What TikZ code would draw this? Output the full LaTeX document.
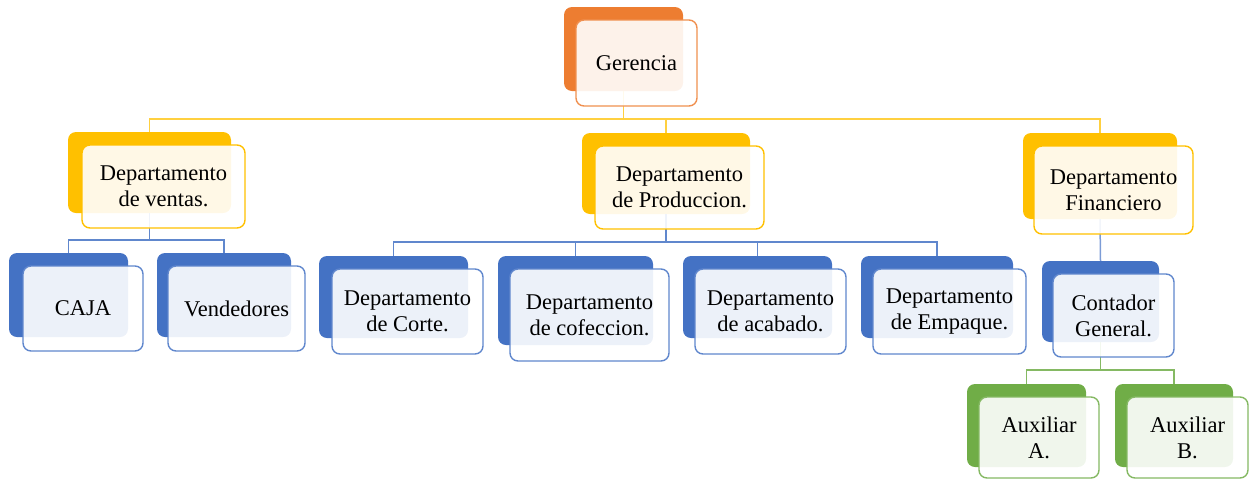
\documentclass[tikz,border=0pt]{standalone}
\usepackage{fontspec}
\setmainfont{Liberation Serif}
\definecolor{corange}{HTML}{ED7D31}
\definecolor{cgold}{HTML}{FFC000}
\definecolor{cblue}{HTML}{4472C4}
\definecolor{cgreen}{HTML}{70AD47}
\begin{document}
\begin{tikzpicture}[x=1pt,y=-1pt,
  backbox/.style={draw=none,fill=#1,rounded corners=8pt,inner sep=0pt},
  frontbox/.style={draw=#1,line width=1.4pt,fill=white,fill opacity=0.9,text opacity=1,
    rounded corners=8pt,inner sep=0pt,align=center,font=\fontsize{22.5}{26}\selectfont},
  link/.style={draw=#1,line width=1.5pt}
]
\useasboundingbox (0,0) rectangle (1254,480);
% back boxes
\node[backbox=corange,minimum width=119pt,minimum height=84pt] (gerB) at (623.5,49) {};
\node[backbox=cgold,minimum width=163pt,minimum height=81pt] (venB) at (149.5,172.5) {};
\node[backbox=cgold,minimum width=168pt,minimum height=81pt] (proB) at (666,173.5) {};
\node[backbox=cgold,minimum width=154pt,minimum height=86pt] (finB) at (1100,176) {};
\node[backbox=cblue,minimum width=119pt,minimum height=84pt] (cajB) at (68.5,295) {};
\node[backbox=cblue,minimum width=134pt,minimum height=84pt] (vndB) at (224,295) {};
\node[backbox=cblue,minimum width=149pt,minimum height=82pt] (corB) at (393.5,297) {};
\node[backbox=cblue,minimum width=155pt,minimum height=89pt] (cofB) at (575.5,300.5) {};
\node[backbox=cblue,minimum width=149pt,minimum height=82pt] (acaB) at (757.5,297) {};
\node[backbox=cblue,minimum width=152pt,minimum height=82pt] (empB) at (937,297) {};
\node[backbox=cblue,minimum width=117pt,minimum height=81pt] (conB) at (1100.5,301.5) {};
\node[backbox=cgreen,minimum width=119pt,minimum height=83pt] (auaB) at (1026.5,425.5) {};
\node[backbox=cgreen,minimum width=118pt,minimum height=83pt] (aubB) at (1174,425.5) {};
% connectors
\path[link=cgold!75] (gerB.south) -- +(0,28) -| (venB.north);
\path[link=cgold!75] (gerB.south) -- +(0,28) -| (proB.north);
\path[link=cgold!75] (gerB.south) -- +(0,28) -| (finB.north);
\path[link=cblue!85] (venB.south) -- +(0,27) -| (cajB.north);
\path[link=cblue!85] (venB.south) -- +(0,27) -| (vndB.north);
\path[link=cblue!85] (proB.south) -- +(0,28) -| (corB.north);
\path[link=cblue!85] (proB.south) -- +(0,28) -| (cofB.north);
\path[link=cblue!85] (proB.south) -- +(0,28) -| (acaB.north);
\path[link=cblue!85] (proB.south) -- +(0,28) -| (empB.north);
\path[link=cblue!70] (finB.south) -- (conB.north);
\path[link=cgreen!85] (conB.south) -- +(0,28) -| (auaB.north);
\path[link=cgreen!85] (conB.south) -- +(0,28) -| (aubB.north);
% front boxes
\node[frontbox=corange!85,minimum width=121pt,minimum height=86pt] (ger) at (636.5,63) {Gerencia};
\node[frontbox=cgold,minimum width=163pt,minimum height=83pt] (ven) at (163.5,186.5) {Departamento\\de ventas.};
\node[frontbox=cgold,minimum width=169pt,minimum height=83pt] (pro) at (679.5,187.5) {Departamento\\de Produccion.};
\node[frontbox=cgold,minimum width=159pt,minimum height=88pt] (fin) at (1113.5,190) {Departamento\\Financiero};
\node[frontbox=cblue!85,minimum width=120pt,minimum height=85pt] (caj) at (83,308.5) {CAJA};
\node[frontbox=cblue!85,minimum width=137pt,minimum height=85pt] (vnd) at (236.5,308.5) {Vendedores};
\node[frontbox=cblue!85,minimum width=151pt,minimum height=85pt] (cor) at (407.5,311.5) {Departamento\\de Corte.};
\node[frontbox=cblue!85,minimum width=159pt,minimum height=92pt] (cof) at (589.5,315) {Departamento\\de cofeccion.};
\node[frontbox=cblue!85,minimum width=151pt,minimum height=85pt] (aca) at (770.5,311.5) {Departamento\\de acabado.};
\node[frontbox=cblue!85,minimum width=153pt,minimum height=85pt] (emp) at (949.5,311.5) {Departamento\\de Empaque.};
\node[frontbox=cblue!85,minimum width=121pt,minimum height=83pt] (con) at (1113.5,315.5) {Contador\\General.};
\node[frontbox=cgreen!85,minimum width=120pt,minimum height=81pt] (aua) at (1039,437.5) {Auxiliar\\A.};
\node[frontbox=cgreen!85,minimum width=121pt,minimum height=81pt] (aub) at (1187.5,437.5) {Auxiliar\\B.};
\end{tikzpicture}
\end{document}
